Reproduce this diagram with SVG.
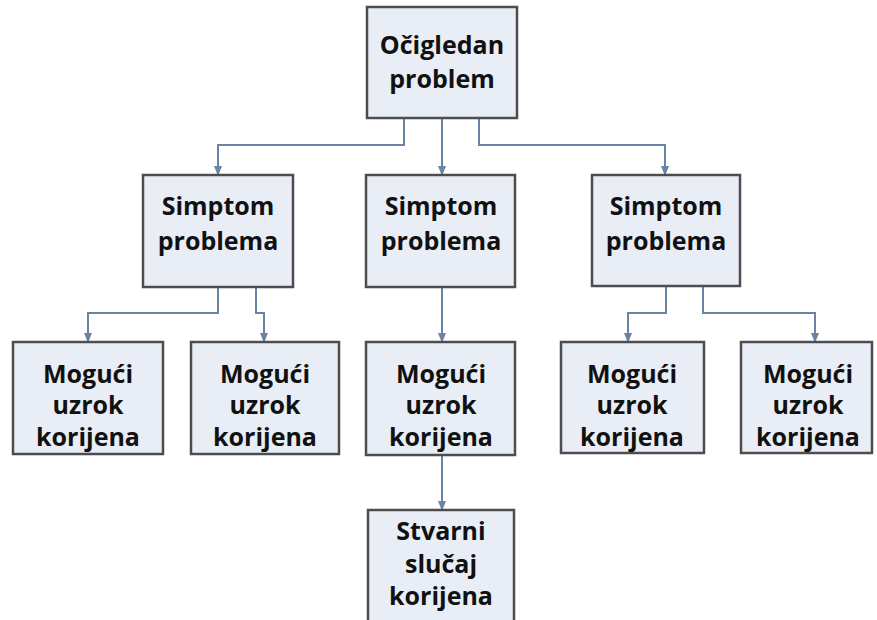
<svg xmlns="http://www.w3.org/2000/svg" width="877" height="620" viewBox="0 0 877 620">
<defs>
<marker id="ah" markerWidth="10" markerHeight="8" refX="9" refY="4" orient="auto" markerUnits="userSpaceOnUse">
<path d="M0,0 L10,4 L0,8 Z" fill="#6a84a6"/>
</marker>
<style>
.box{fill:#e9edf6;stroke:#4d4d4d;stroke-width:2.5}
.t{font-family:"Open Sans","Liberation Sans",sans-serif;font-weight:bold;font-size:25px;fill:#111;text-anchor:middle}
.c{fill:none;stroke:#6a84a6;stroke-width:2;marker-end:url(#ah)}
</style>
</defs>
<rect width="877" height="620" fill="#fff"/>
<g id="connectors">
<path class="c" d="M404,118 V145 H218 V175"/>
<path class="c" d="M442,118 V175"/>
<path class="c" d="M479,118 V145 H665 V175"/>
<path class="c" d="M218,287 V313 H88 V342"/>
<path class="c" d="M256,287 V313 H264 V342"/>
<path class="c" d="M442,287 V342"/>
<path class="c" d="M666,287 V313 H628 V342"/>
<path class="c" d="M703,287 V313 H815 V342"/>
<path class="c" d="M442,455 V510"/>
</g>
<g id="n_top"><rect class="box" x="367" y="7" width="150" height="111"/>
<text class="t" x="442" y="54">Očigledan</text><text class="t" x="442" y="88">problem</text></g>
<g id="n_s1"><rect class="box" x="143" y="175" width="150" height="112"/>
<text class="t" x="218" y="215">Simptom</text><text class="t" x="218" y="250">problema</text></g>
<g id="n_s2"><rect class="box" x="366" y="175" width="149" height="112"/>
<text class="t" x="441" y="215">Simptom</text><text class="t" x="441" y="250">problema</text></g>
<g id="n_s3"><rect class="box" x="592" y="175" width="148" height="111"/>
<text class="t" x="666" y="215">Simptom</text><text class="t" x="666" y="250">problema</text></g>
<g id="n_m1"><rect class="box" x="13" y="342" width="150" height="112"/>
<text class="t" x="88" y="383">Mogući</text><text class="t" x="88" y="414">uzrok</text><text class="t" x="88" y="446">korijena</text></g>
<g id="n_m2"><rect class="box" x="191" y="342" width="148" height="112"/>
<text class="t" x="265" y="383">Mogući</text><text class="t" x="265" y="414">uzrok</text><text class="t" x="265" y="446">korijena</text></g>
<g id="n_m3"><rect class="box" x="366" y="342" width="149" height="113"/>
<text class="t" x="441" y="383">Mogući</text><text class="t" x="441" y="414">uzrok</text><text class="t" x="441" y="446">korijena</text></g>
<g id="n_m4"><rect class="box" x="561" y="342" width="143" height="111"/>
<text class="t" x="632" y="383">Mogući</text><text class="t" x="632" y="414">uzrok</text><text class="t" x="632" y="446">korijena</text></g>
<g id="n_m5"><rect class="box" x="741" y="342" width="131" height="111"/>
<text class="t" x="808" y="383">Mogući</text><text class="t" x="808" y="414">uzrok</text><text class="t" x="808" y="446">korijena</text></g>
<g id="n_real"><rect class="box" x="368" y="510" width="146" height="130"/>
<text class="t" x="441" y="540">Stvarni</text><text class="t" x="441" y="573">slučaj</text><text class="t" x="441" y="605">korijena</text></g>
</svg>
